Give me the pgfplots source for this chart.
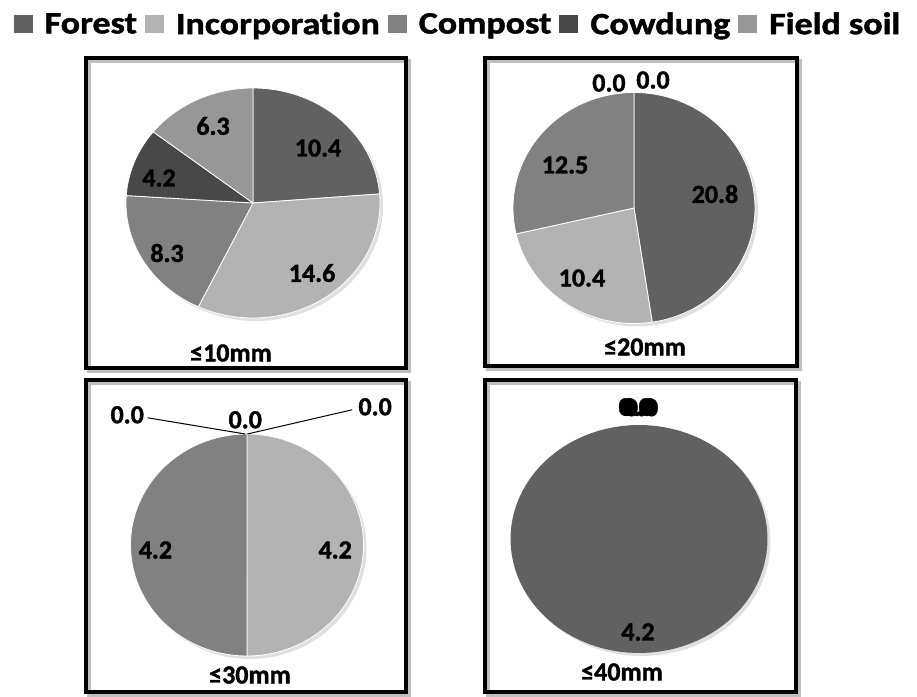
\documentclass[border=0pt]{standalone}
\usepackage{pgfplots}
\pgfplotsset{compat=1.18}
\usepackage{fontspec}
\setmainfont{Carlito}[Ligatures=NoCommon, BoldFeatures={FakeBold=1.5}]
\newfontfamily\legfamily{Carlito}[Ligatures=NoCommon, FakeStretch=1.16, BoldFeatures={FakeBold=1.5}]
\newcommand\legfont{\legfamily\bfseries\fontsize{31}{31}\selectfont}
\newcommand\labfont{\bfseries\fontsize{26}{26}\selectfont}

\definecolor{forest}{HTML}{616161}
\definecolor{incorp}{HTML}{B3B3B3}
\definecolor{compost}{HTML}{818181}
\definecolor{cowdung}{HTML}{484848}
\definecolor{fieldsoil}{HTML}{979797}

% running sum of the slices of one pie
\newcommand\piestart[1]{\gdef\cum{0}\gdef\tot{#1}}
\newcommand\slice[2]{%
  \pgfmathsetmacro\angA{90-360*\cum/\tot}%
  \pgfmathsetmacro\angB{90-360*(\cum+#1)/\tot}%
  \pgfmathsetmacro\newcum{\cum+#1}\global\let\cum\newcum
  \ifdim#1pt=0pt\else
    \addplot[forget plot, #2, data cs=polar, domain=\angB:\angA, samples=100] {1} -- (axis cs:0,0) -- cycle;
  \fi
}

\pgfplotsset{
  pie/.style={scale only axis, hide axis, xmin=-1, xmax=1, ymin=-1, ymax=1,
    clip=false, anchor=origin},
  pieshadow/.style={forget plot, fill=black!12, draw=none, data cs=polar,
    domain=0:360, samples=120, xshift=3pt, yshift=-3pt},
  lbl/.style={forget plot, only marks, mark=*, mark size=0pt,
    mark options={draw=none, fill=none}, point meta=explicit symbolic,
    nodes near coords,
    every node near coord/.append style={anchor=center, font=\labfont, inner sep=0pt}},
  sl/.style={fill=#1, draw=white, line width=0.8pt},
}

\begin{document}
\begin{tikzpicture}

% frames
\begin{scope}[x=1pt, y=1pt]
\foreach \a/\b/\c/\d in {86/328/406/638, 485/330/797/638, 86/4/406/316, 485/4/796/316}{
  \draw[black!25, line width=4pt] (\a+3,\b-3) rectangle (\c+3,\d-3);
  \draw[black, line width=4pt] (\a,\b) rectangle (\c,\d);
}
\end{scope}

% <=10mm
\begin{axis}[pie, width=254pt, height=230pt, at={(253pt,493pt)},
  legend columns=5,
  legend style={draw=none, fill=none, inner sep=0pt, at={(-0.443,1.278)}, anchor=west,
    font=\legfont, nodes={inner sep=0pt},
    /tikz/every odd column/.append style={column sep=12pt},
    /tikz/every even column/.append style={column sep=8pt}},
  legend image code/.code={\fill[#1, draw=none] (0pt,-9pt) rectangle (19pt,9pt);}]
\addplot[pieshadow] {1};
\piestart{43.8}
\slice{10.4}{sl=forest}
\slice{14.6}{sl=incorp}
\slice{8.3}{sl=compost}
\slice{4.2}{sl=cowdung}
\slice{6.3}{sl=fieldsoil}
\addplot[lbl] coordinates {(0.512,0.478)[10.4] (0.465,-0.609)[14.6]
  (-0.677,-0.435)[8.3] (-0.740,0.217)[4.2] (-0.315,0.670)[6.3]};
\addlegendimage{fill=forest}\addlegendentry{Forest}
\addlegendimage{fill=incorp}\addlegendentry{Incorporation}
\addlegendimage{fill=compost}\addlegendentry{Compost}
\addlegendimage{fill=cowdung}\addlegendentry{Cowdung}
\addlegendimage{fill=fieldsoil}\addlegendentry{Field soil}
\end{axis}

% <=20mm
\begin{axis}[pie, width=242pt, height=231pt, at={(634pt,488pt)}]
\addplot[pieshadow] {1};
\piestart{43.7}
\slice{20.8}{sl=forest}
\slice{10.4}{sl=incorp}
\slice{12.5}{sl=compost}
\slice{0.0}{sl=cowdung}
\slice{0.0}{sl=fieldsoil}
\addplot[lbl] coordinates {(0.669,0.121)[20.8] (-0.430,-0.606)[10.4]
  (-0.570,0.372)[12.5] (-0.207,1.082)[0.0] (0.157,1.108)[0.0]};
\end{axis}

% <=30mm
\begin{axis}[pie, width=233pt, height=222pt, at={(247pt,151pt)}]
\addplot[pieshadow] {1};
\piestart{8.4}
\slice{0.0}{sl=forest}
\slice{4.2}{sl=incorp}
\slice{4.2}{sl=compost}
\slice{0.0}{sl=cowdung}
\slice{0.0}{sl=fieldsoil}
\addplot[forget plot, black, line width=1pt] coordinates {(-0.853,1.146) (-0.015,1.0)};
\addplot[forget plot, black, line width=1pt] coordinates {(0.902,1.218) (0.003,1.0)};
\addplot[lbl] coordinates {(-1.028,1.173)[0.0] (0.757,-0.045)[4.2]
  (-0.786,-0.045)[4.2] (-0.015,1.128)[0.0] (1.100,1.245)[0.0]};
\end{axis}

% <=40mm
\begin{axis}[pie, width=257pt, height=228pt, at={(639pt,157pt)}]
\addplot[pieshadow] {1};
\piestart{4.2}
\slice{4.2}{fill=forest, draw=none}
\slice{0.0}{sl=incorp}
\slice{0.0}{sl=compost}
\slice{0.0}{sl=cowdung}
\slice{0.0}{sl=fieldsoil}
\addplot[lbl] coordinates {(-0.008,-0.816)[4.2] (-0.030,1.158)[0.0]
  (-0.015,1.155)[0.0] (0.005,1.160)[0.0] (0.020,1.152)[0.0]};
\end{axis}

% size classes
\begin{scope}[x=1pt, y=1pt]
\node[font=\labfont] at (231,343) {≤10mm};
\node[font=\labfont] at (645,349) {≤20mm};
\node[font=\labfont] at (250,21) {≤30mm};
\node[font=\labfont] at (622,24) {≤40mm};
\end{scope}

\pgfresetboundingbox
\useasboundingbox (0pt,0pt) rectangle (917pt,696pt);
\end{tikzpicture}
\end{document}
